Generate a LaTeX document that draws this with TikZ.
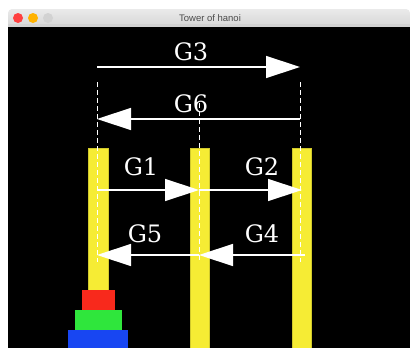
\documentclass[tikz,border=0pt]{standalone}
\usepackage{fontspec}
\setmainfont{DejaVu Serif}
\newfontfamily\uifont{Liberation Sans}
\usetikzlibrary{arrows.meta}
\definecolor{pegyellow}{HTML}{F6EC34}
\definecolor{diskred}{HTML}{F8291C}
\definecolor{diskgreen}{HTML}{2FE63C}
\definecolor{diskblue}{HTML}{1846F2}
\definecolor{barhi}{HTML}{EAEAEA}
\definecolor{barlo}{HTML}{D2D2D2}
\tikzset{
  peg/.style={fill=pegyellow, draw=pegyellow!85!black, line width=0.6pt},
  disk/.style={draw=none},
  guide/.style={draw=white, line width=0.9pt, dash pattern=on 5pt off 3pt},
  move/.style={draw=white, line width=1.4pt, -{Triangle[length=34pt,width=22pt]}},
  glabel/.style={text=white, font=\fontsize{24}{24}\selectfont, anchor=base, inner sep=0pt},
}
\begin{document}
\begin{tikzpicture}[x=1pt,y=-1pt]
\useasboundingbox (0,0) rectangle (410,348);
\fill[white] (0,0) rectangle (410,348);
% window
\fill[black] (8,27) rectangle (410,348);
\shade[top color=barhi, bottom color=barlo, rounded corners=4pt] (8,9) rectangle (410,31);
\fill[barlo] (8,24) rectangle (410,27);
\draw[gray!70, line width=0.6pt] (8,27) -- (410,27);
\draw[gray!50, line width=0.8pt] (8,27) -- (8,348);
\fill[black] (8.4,27.3) rectangle (410,348);
\fill[red!75!white] (18,18) circle (5);
\fill[orange!60!yellow] (33,18) circle (5);
\fill[gray!35] (48,18) circle (5);
\node[text=black!70, font=\uifont\fontsize{9.5}{10}\selectfont] (title) at (210,18) {Tower of hanoi};
% pegs
\filldraw[peg] (88,148) rectangle (108,350);
\filldraw[peg] (190,148) rectangle (209,350);
\filldraw[peg] (292,148) rectangle (311,350);
% disks
\fill[diskred, disk] (82,290) rectangle (115,310);
\fill[diskgreen, disk] (75,310) rectangle (122,330);
\fill[diskblue, disk] (68,330) rectangle (128,349);
% coordinates
\coordinate (A3) at (97,67);  \coordinate (C3) at (300,67);
\coordinate (A6) at (97,119); \coordinate (C6) at (300,119);
\coordinate (A1) at (97,190); \coordinate (B1) at (199,190); \coordinate (C1) at (302,190);
\coordinate (A5) at (97,255); \coordinate (B5) at (199,255); \coordinate (C5) at (305,255);
\coordinate (Atop) at (97,82);  \coordinate (Abot) at (97,262);
\coordinate (Btop) at (199,103); \coordinate (Bbot) at (199,262);
\coordinate (Ctop) at (300,82);  \coordinate (Cbot) at (300,262);
% guides
\draw[guide] (Atop) -- (Abot);
\draw[guide] (Btop) -- (Bbot);
\draw[guide] (Ctop) -- (Cbot);
% moves
\draw[move] (A3) -- (C3);
\draw[move] (C6) -- (A6);
\draw[move] (A1) -- (B1);
\draw[move] (B1) -- (C1);
\draw[move] (B5) -- (A5);
\draw[move] (C5) -- (B5);
% labels
\node[glabel] (g3) at (191,60) {G3};
\node[glabel] (g6) at (191,112) {G6};
\node[glabel] (g1) at (141,175) {G1};
\node[glabel] (g2) at (262,175) {G2};
\node[glabel] (g5) at (145,242) {G5};
\node[glabel] (g4) at (262,242) {G4};
\end{tikzpicture}
\end{document}
